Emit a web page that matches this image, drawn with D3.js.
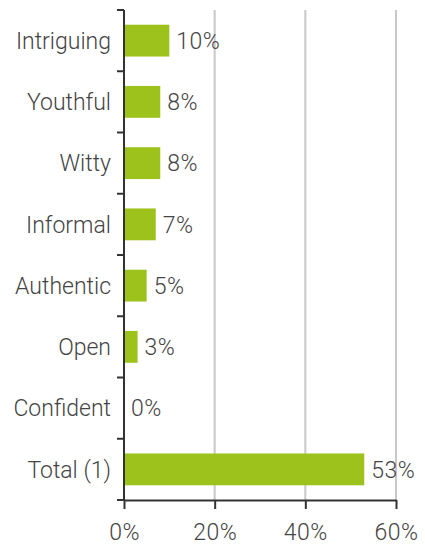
<!DOCTYPE html>
<html>
<head>
<meta charset="utf-8">
<script src="https://cdn.jsdelivr.net/npm/d3@7"></script>
<style>
  body { margin: 0; background: #fff; }
  text { font-family: Roboto, "Liberation Sans", Arial, sans-serif; font-weight: 300; fill: #444; }
</style>
</head>
<body>
<div id="app"></div>
<script>
var categories = ['Intriguing', 'Youthful', 'Witty', 'Informal', 'Authentic', 'Open', 'Confident', 'Total (1)'];
var values = [10, 8, 8, 7, 5, 3, 0, 53];
var xTicks = [0, 20, 40, 60];

var marginLeft = 124, marginTop = 10, width = 272, height = 490;
var fontFamily = 'Roboto, "Liberation Sans", Arial, sans-serif';

var svg = d3.select('#app')
  .append('svg')
    .attr('width', 425)
    .attr('height', 548);

var g = svg.append('g')
    .attr('transform', 'translate(' + marginLeft + ',' + marginTop + ')');

var x = d3.scaleLinear()
    .domain([0, 60])
    .range([0, width]);

var y = d3.scaleBand()
    .domain(categories)
    .range([0, height])
    .paddingInner(0.48)
    .paddingOuter(0.24);

var step = y.step();

// grid lines
g.append('g')
    .selectAll('line')
    .data(xTicks.slice(1))
  .enter().append('line')
    .attr('x1', function(d){ return x(d); })
    .attr('x2', function(d){ return x(d); })
    .attr('y1', 0)
    .attr('y2', height)
    .style('stroke', '#c8c8c8')
    .style('stroke-width', 2);

// bars
g.append('g')
    .selectAll('rect')
    .data(values)
  .enter().append('rect')
    .attr('x', 0)
    .attr('y', function(d, i){ return y(categories[i]); })
    .attr('width', function(d){ return x(d); })
    .attr('height', y.bandwidth())
    .style('fill', '#9dc21b');

// value labels
g.append('g')
    .selectAll('text')
    .data(values)
  .enter().append('text')
    .attr('x', function(d){ return x(d) + 7; })
    .attr('y', function(d, i){ return y(categories[i]) + y.bandwidth() / 2; })
    .attr('dy', '0.36em')
    .style('font-size', '23px')
    .style('letter-spacing', '0.5px')
    .text(function(d){ return d + '%'; });

// x axis
var xAxis = g.append('g')
    .attr('transform', 'translate(0,' + height + ')')
    .call(d3.axisBottom(x)
      .tickValues(xTicks)
      .tickSize(9)
      .tickSizeOuter(0)
      .tickPadding(15)
      .tickFormat(function(d){ return d + '%'; }));

xAxis.select('.domain').style('stroke', '#333').style('stroke-width', 2);
xAxis.selectAll('.tick line').style('stroke', '#333').style('stroke-width', 2);
xAxis.selectAll('text')
    .style('font-family', fontFamily)
    .style('font-weight', 300)
    .style('font-size', '23px')
    .style('letter-spacing', '0.5px')
    .style('fill', '#444');

// y axis: line, boundary ticks, labels
var bounds = categories.map(function(c){ return y(c) - step * 0.24; }).concat([height]);

var yAxis = g.append('g');

yAxis.append('line')
    .attr('x1', 0)
    .attr('x2', 0)
    .attr('y1', 0)
    .attr('y2', height + 1)
    .style('stroke', '#333')
    .style('stroke-width', 2);

yAxis.selectAll('.btick')
    .data(bounds)
  .enter().append('line')
    .attr('class', 'btick')
    .attr('x1', -7)
    .attr('x2', 0)
    .attr('y1', function(d){ return d; })
    .attr('y2', function(d){ return d; })
    .style('stroke', '#333')
    .style('stroke-width', 2);

yAxis.selectAll('.lbl')
    .data(categories)
  .enter().append('text')
    .attr('class', 'lbl')
    .attr('x', -13)
    .attr('y', function(d){ return y(d) + y.bandwidth() / 2; })
    .attr('dy', '0.36em')
    .style('text-anchor', 'end')
    .style('font-size', '23px')
    .text(function(d){ return d; });
</script>
</body>
</html>
